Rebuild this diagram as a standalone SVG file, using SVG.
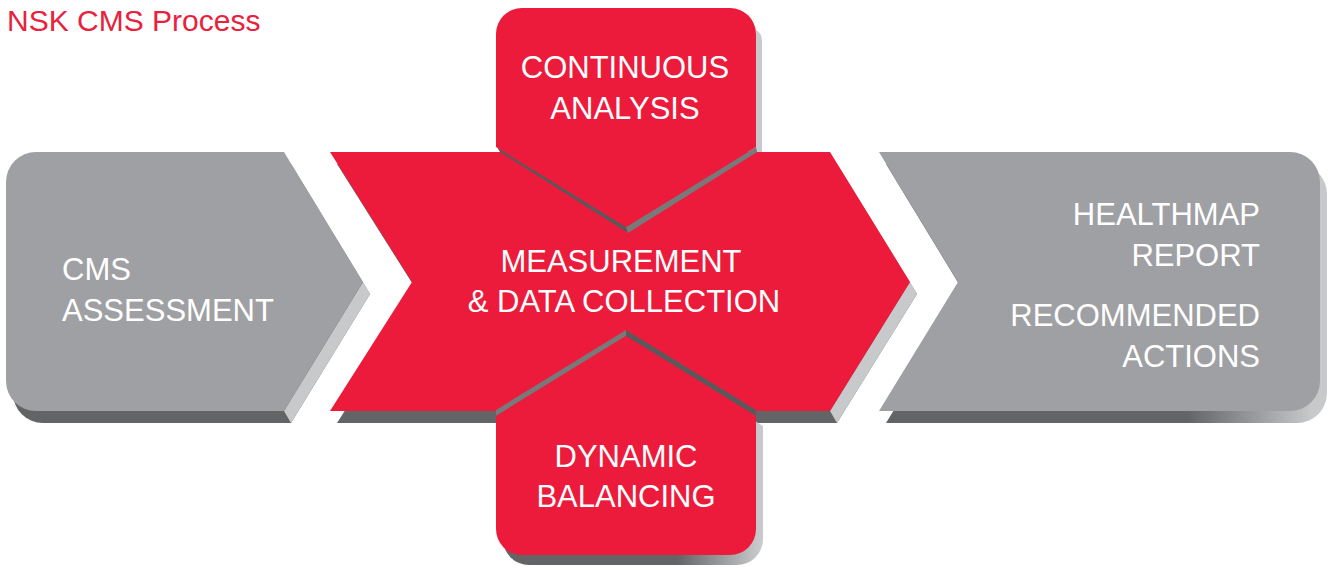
<svg xmlns="http://www.w3.org/2000/svg" width="1335" height="567" viewBox="0 0 1335 567">
<defs>
<style>
.gray{fill:#9fa0a3}
.red{fill:#ed1b3b}
.dark{fill:#636466}
.light{fill:#c8c9cb}
.mid{fill:#78797b}
.deep{fill:#58595b}
.lbl{font-family:"Liberation Sans",Arial,sans-serif;font-size:31px;fill:#ffffff}
.title{font-family:"Liberation Sans",Arial,sans-serif;font-size:30px;fill:#e8213d}
</style>
<linearGradient id="gR" gradientUnits="userSpaceOnUse" x1="1180" y1="0" x2="1305" y2="0">
<stop offset="0" stop-color="#636466"/><stop offset="1" stop-color="#c8c9cb"/>
</linearGradient>
<linearGradient id="gB" gradientUnits="userSpaceOnUse" x1="670" y1="0" x2="752" y2="0">
<stop offset="0" stop-color="#636466"/><stop offset="1" stop-color="#c8c9cb"/>
</linearGradient>
</defs>
<rect width="1335" height="567" fill="#ffffff"/>
<text class="title" x="7" y="31">NSK CMS Process</text>

<g id="cms-assessment">
<path class="dark" transform="translate(7,12)" d="M36,152 H284 L363,282 L284,411 H36 A30,30 0 0 1 6,381 V182 A30,30 0 0 1 36,152 Z"/>
<polygon class="light" points="363,282 370,294 291,423 284,411"/>
<path class="gray" d="M36,152 H284 L363,282 L284,411 H36 A30,30 0 0 1 6,381 V182 A30,30 0 0 1 36,152 Z"/>
<text class="lbl" x="62" y="280">CMS</text>
<text class="lbl" x="62" y="321">ASSESSMENT</text>
</g>

<g id="healthmap">
<path fill="url(#gR)" transform="translate(7,12)" d="M879,152 H1290 A30,30 0 0 1 1320,182 V381 A30,30 0 0 1 1290,411 H879 L958,282 Z"/>
<path class="gray" d="M879,152 H1290 A30,30 0 0 1 1320,182 V381 A30,30 0 0 1 1290,411 H879 L958,282 Z"/>
<text class="lbl" text-anchor="end" x="1260" y="225">HEALTHMAP</text>
<text class="lbl" text-anchor="end" x="1260" y="266">REPORT</text>
<text class="lbl" text-anchor="end" x="1260" y="326">RECOMMENDED</text>
<text class="lbl" text-anchor="end" x="1260" y="367">ACTIONS</text>
</g>

<g id="measurement">
<path class="dark" transform="translate(7,12)" d="M330,152 H830 L910,282 L830,411 H330 L412,282 Z"/>
<polygon class="light" points="910,282 917,294 837,423 830,411"/>
<path class="red" d="M330,152 H830 L910,282 L830,411 H330 L412,282 Z"/>
</g>

<g id="continuous-analysis">
<path class="light" d="M756,30 Q762,33 762,42 V152 H756 Z"/>
<polygon class="deep" points="497,147 626,227 628,233 500,152"/>
<polygon class="mid" points="626,227 756,147 757,152 628,233"/>
<path class="red" d="M522,8 H730 A26,26 0 0 1 756,34 V147 L626,227 L496,147 V34 A26,26 0 0 1 522,8 Z"/>
<text class="lbl" text-anchor="middle" x="625" y="78">CONTINUOUS</text>
<text class="lbl" text-anchor="middle" x="625" y="119">ANALYSIS</text>
</g>

<g id="dynamic-balancing">
<path fill="url(#gB)" transform="translate(7,10)" d="M496,416 L626,336 L756,416 V529 A26,26 0 0 1 730,555 H522 A26,26 0 0 1 496,529 Z"/>
<polygon class="mid" points="496,410 626,330 626,336 496,416"/>
<polygon class="deep" points="626,330 756,410 756,416 626,336"/>
<path class="red" d="M496,416 L626,336 L756,416 V529 A26,26 0 0 1 730,555 H522 A26,26 0 0 1 496,529 Z"/>
<text class="lbl" text-anchor="middle" x="626" y="467">DYNAMIC</text>
<text class="lbl" text-anchor="middle" x="626" y="507">BALANCING</text>
</g>

<g id="measurement-label">
<text class="lbl" text-anchor="middle" x="621" y="272">MEASUREMENT</text>
<text class="lbl" text-anchor="middle" x="624" y="312">&amp; DATA COLLECTION</text>
</g>

<g id="connectors"></g>
</svg>
